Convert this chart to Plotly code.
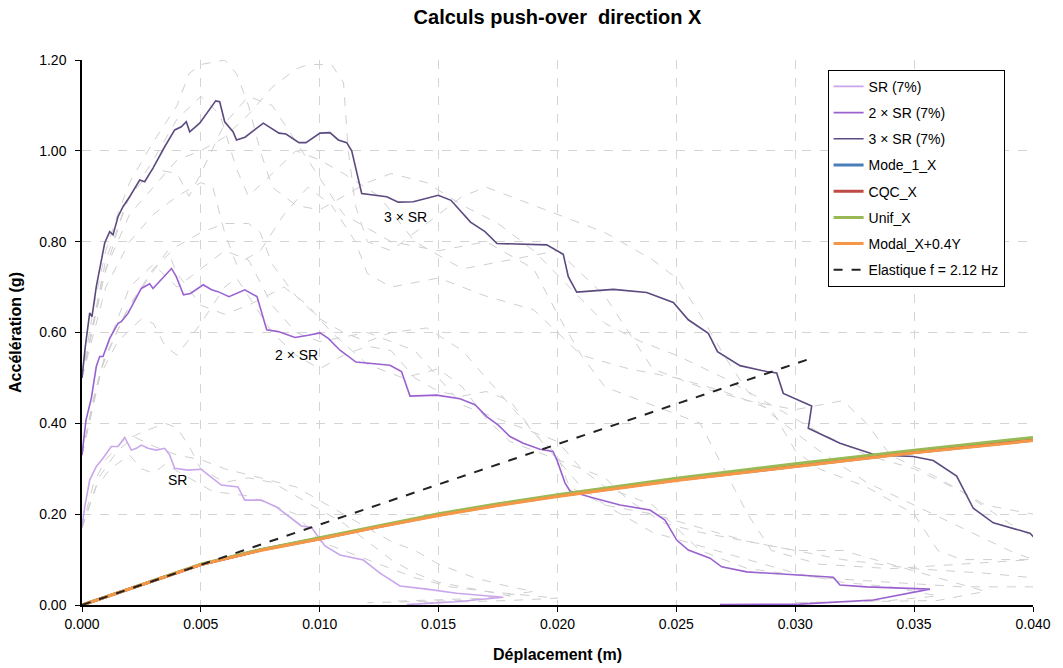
import plotly.graph_objects as go

# ---------------- data ----------------
sr3_x = [0.0, 0.000139, 0.000324, 0.000421, 0.000601, 0.000812, 0.000955, 0.001165, 0.001304,
         0.001514, 0.001724, 0.002006, 0.002217, 0.002427, 0.002637, 0.002986, 0.003478, 0.003899,
         0.004177, 0.004387, 0.004530, 0.004950, 0.005623, 0.005792, 0.006002, 0.006351, 0.006498,
         0.006856, 0.007626, 0.008286, 0.008580, 0.009127, 0.009421, 0.010010, 0.010431, 0.010780,
         0.011133, 0.011344, 0.011764, 0.012252, 0.012816, 0.013304, 0.013935, 0.014986, 0.015520,
         0.016341, 0.016950, 0.017455, 0.019545, 0.020244, 0.020454, 0.020807, 0.022347, 0.023752,
         0.024871, 0.025501, 0.026343, 0.026730, 0.027675, 0.028798, 0.029219, 0.029496, 0.030691,
         0.030548, 0.031881, 0.033282, 0.033702, 0.034964, 0.035805, 0.036789, 0.037488, 0.038329,
         0.039873, 0.040083]
sr3_y = [0.500, 0.569, 0.643, 0.635, 0.701, 0.760, 0.797, 0.822, 0.815,
         0.855, 0.877, 0.899, 0.917, 0.936, 0.932, 0.962, 1.009, 1.046,
         1.053, 1.064, 1.042, 1.061, 1.110, 1.108, 1.064, 1.042, 1.024,
         1.030, 1.061, 1.039, 1.037, 1.018, 1.018, 1.039, 1.040, 1.024,
         1.018, 1.000, 0.906, 0.903, 0.899, 0.887, 0.888, 0.902, 0.891,
         0.843, 0.822, 0.796, 0.793, 0.772, 0.723, 0.689, 0.695, 0.688,
         0.666, 0.628, 0.598, 0.558, 0.527, 0.514, 0.511, 0.466, 0.438,
         0.389, 0.356, 0.332, 0.330, 0.327, 0.318, 0.284, 0.213, 0.181,
         0.158, 0.147]

sr2_x = [0.0, 0.000168, 0.000391, 0.000601, 0.000744, 0.000883, 0.001165, 0.001514, 0.001653,
         0.001935, 0.002494, 0.002847, 0.002986, 0.003335, 0.003764, 0.003966, 0.004269, 0.004563,
         0.005098, 0.005447, 0.005720, 0.006183, 0.006847, 0.007360, 0.007769, 0.008256, 0.008959,
         0.009518, 0.010010, 0.010359, 0.010851, 0.011524, 0.012113, 0.012954, 0.013438, 0.013796,
         0.014919, 0.015898, 0.016530, 0.017022, 0.017510, 0.018002, 0.018561, 0.019263, 0.019810,
         0.019978, 0.020315, 0.020525, 0.021366, 0.022628, 0.023890, 0.024520, 0.025013, 0.025501,
         0.026414, 0.026906, 0.027957, 0.031600, 0.031881, 0.033004, 0.035667, 0.033282, 0.030199,
         0.026835]
sr2_y = [0.330, 0.407, 0.455, 0.525, 0.547, 0.547, 0.587, 0.620, 0.624,
         0.642, 0.697, 0.707, 0.697, 0.716, 0.741, 0.723, 0.683, 0.686,
         0.705, 0.694, 0.690, 0.679, 0.694, 0.679, 0.606, 0.602, 0.589,
         0.594, 0.599, 0.587, 0.561, 0.535, 0.532, 0.528, 0.514, 0.460,
         0.462, 0.454, 0.441, 0.415, 0.396, 0.371, 0.356, 0.343, 0.338,
         0.319, 0.269, 0.251, 0.238, 0.220, 0.209, 0.187, 0.143, 0.121,
         0.103, 0.084, 0.073, 0.061, 0.044, 0.040, 0.035, 0.011, 0.002,
         0.001]

sr1_x = [0.0, 0.000114, 0.000324, 0.000601, 0.000883, 0.001232, 0.001514, 0.001796, 0.002074,
         0.002284, 0.002494, 0.002776, 0.003125, 0.003478, 0.003689, 0.003899, 0.004458, 0.005018,
         0.005228, 0.005859, 0.006561, 0.006843, 0.007541, 0.008172, 0.008803, 0.009224, 0.009645,
         0.009926, 0.010221, 0.010851, 0.011832, 0.012534, 0.013375, 0.014498, 0.015760, 0.017720,
         0.015760, 0.013657]
sr1_y = [0.172, 0.216, 0.275, 0.305, 0.323, 0.349, 0.349, 0.369, 0.341,
         0.345, 0.352, 0.345, 0.341, 0.345, 0.330, 0.301, 0.297, 0.299,
         0.290, 0.264, 0.260, 0.231, 0.231, 0.216, 0.191, 0.174, 0.171,
         0.150, 0.130, 0.110, 0.099, 0.070, 0.042, 0.035, 0.026, 0.017,
         0.007, 0.001]

po_x = [0.0, 0.0025, 0.005, 0.0075, 0.010, 0.0125, 0.015, 0.0175, 0.020, 0.025, 0.030, 0.035, 0.040]
mode1_y = [0.0, 0.045, 0.089, 0.121, 0.146, 0.173, 0.198, 0.220, 0.240, 0.275, 0.306, 0.336, 0.363]
cqc_y = [0.0, 0.045, 0.089, 0.121, 0.147, 0.174, 0.199, 0.221, 0.241, 0.276, 0.308, 0.338, 0.365]
unif_y = [0.0, 0.045, 0.090, 0.122, 0.148, 0.175, 0.201, 0.223, 0.243, 0.279, 0.311, 0.341, 0.369]
modal_y = [0.0, 0.045, 0.089, 0.120, 0.145, 0.172, 0.197, 0.219, 0.239, 0.274, 0.305, 0.335, 0.362]

elas_x = [0.0, 0.0305]
elas_y = [0.0, 0.54]

# individual accelerogram spectra (grey dashed background curves)
grey_curves = [
    ([0, 0.0005, 0.001, 0.0015, 0.002, 0.003, 0.004, 0.0045, 0.005, 0.006, 0.0065, 0.007, 0.0075, 0.008,
      0.009, 0.010, 0.011, 0.012, 0.013, 0.0145, 0.016, 0.0175, 0.019, 0.0205, 0.022, 0.0235, 0.025,
      0.027, 0.029, 0.031, 0.033, 0.035, 0.037, 0.039, 0.040],
     [0.5, 0.66, 0.78, 0.86, 0.93, 1.02, 1.10, 1.17, 1.19, 1.20, 1.17, 1.10, 1.00, 0.92,
      0.88, 0.87, 0.90, 0.93, 0.95, 0.93, 0.88, 0.84, 0.78, 0.70, 0.62, 0.58, 0.55,
      0.50, 0.44, 0.38, 0.33, 0.30, 0.25, 0.18, 0.15]),
    ([0, 0.001, 0.002, 0.003, 0.004, 0.005, 0.006, 0.007, 0.008, 0.009, 0.0095, 0.0105, 0.011, 0.0112,
      0.0115, 0.012, 0.013, 0.014, 0.015, 0.016, 0.017, 0.018, 0.020, 0.022, 0.024, 0.025, 0.026,
      0.027, 0.028, 0.029, 0.031, 0.033, 0.035, 0.037, 0.039, 0.040],
     [0.5, 0.74, 0.86, 0.92, 0.98, 1.00, 1.03, 1.08, 1.14, 1.18, 1.19, 1.19, 1.15, 1.00,
      0.88, 0.80, 0.78, 0.82, 0.86, 0.90, 0.92, 0.90, 0.86, 0.82, 0.76, 0.72, 0.64,
      0.55, 0.47, 0.42, 0.34, 0.27, 0.22, 0.17, 0.12, 0.10]),
    ([0, 0.001, 0.002, 0.003, 0.004, 0.005, 0.0055, 0.006, 0.0065, 0.0075, 0.0085, 0.0095, 0.0105,
      0.0115, 0.012, 0.013, 0.015, 0.017, 0.019, 0.020, 0.021, 0.023, 0.025, 0.027, 0.029, 0.030,
      0.031, 0.033, 0.035, 0.036, 0.037, 0.040],
     [0.5, 0.70, 0.80, 0.86, 0.90, 0.93, 0.92, 0.82, 0.75, 0.78, 0.86, 0.92, 0.88,
      0.80, 0.73, 0.70, 0.72, 0.68, 0.65, 0.60, 0.55, 0.52, 0.50, 0.47, 0.43, 0.34,
      0.30, 0.26, 0.20, 0.12, 0.10, 0.10]),
    ([0, 0.0008, 0.0018, 0.003, 0.004, 0.005, 0.0058, 0.0065, 0.007, 0.008, 0.009, 0.010, 0.011,
      0.0125, 0.014, 0.016, 0.018, 0.020, 0.022, 0.023, 0.024, 0.026, 0.028, 0.030, 0.032, 0.033,
      0.034, 0.036, 0.038, 0.040],
     [0.5, 0.70, 0.88, 0.98, 1.07, 1.12, 1.08, 0.96, 0.90, 0.95, 1.00, 0.98, 0.95,
      0.90, 0.80, 0.74, 0.76, 0.78, 0.68, 0.60, 0.52, 0.48, 0.45, 0.43, 0.45, 0.40,
      0.33, 0.28, 0.22, 0.20]),
    ([0, 0.001, 0.002, 0.003, 0.004, 0.0045, 0.005, 0.006, 0.007, 0.008, 0.009, 0.010, 0.011, 0.013,
      0.015, 0.017, 0.019, 0.020, 0.021, 0.022, 0.024, 0.026, 0.027, 0.028, 0.029, 0.031, 0.034,
      0.037, 0.040],
     [0.5, 0.76, 0.90, 0.96, 0.95, 0.90, 0.95, 1.06, 1.12, 1.10, 1.02, 0.94, 0.86, 0.80,
      0.78, 0.80, 0.74, 0.64, 0.55, 0.48, 0.44, 0.40, 0.30, 0.20, 0.12, 0.09, 0.08,
      0.09, 0.10]),
    ([0, 0.0005, 0.001, 0.002, 0.003, 0.004, 0.005, 0.006, 0.007, 0.0075, 0.008, 0.009, 0.010, 0.011,
      0.012, 0.013, 0.0145, 0.016, 0.017, 0.018, 0.019, 0.020, 0.021, 0.022, 0.023, 0.024, 0.026,
      0.028, 0.030, 0.032, 0.034, 0.036, 0.034, 0.030],
     [0.33, 0.46, 0.55, 0.66, 0.74, 0.79, 0.82, 0.84, 0.84, 0.82, 0.75, 0.68, 0.63, 0.60,
      0.58, 0.60, 0.61, 0.56, 0.50, 0.44, 0.38, 0.32, 0.26, 0.22, 0.19, 0.16, 0.13,
      0.10, 0.07, 0.05, 0.04, 0.02, 0.01, 0.005]),
    ([0, 0.0007, 0.0015, 0.0025, 0.003, 0.0035, 0.004, 0.005, 0.006, 0.0065, 0.007, 0.008, 0.009,
      0.010, 0.011, 0.012, 0.013, 0.014, 0.015, 0.016, 0.017, 0.018, 0.019, 0.020, 0.0205, 0.022,
      0.024, 0.026, 0.028, 0.030, 0.032, 0.034, 0.036, 0.038, 0.036, 0.030],
     [0.33, 0.50, 0.58, 0.63, 0.62, 0.57, 0.55, 0.62, 0.70, 0.72, 0.68, 0.60, 0.55,
      0.52, 0.55, 0.57, 0.56, 0.50, 0.47, 0.46, 0.47, 0.45, 0.38, 0.33, 0.26, 0.22,
      0.20, 0.17, 0.14, 0.12, 0.12, 0.09, 0.06, 0.03, 0.01, 0.005]),
    ([0, 0.0008, 0.0018, 0.0028, 0.0036, 0.004, 0.005, 0.006, 0.007, 0.0085, 0.0095, 0.0105, 0.012,
      0.0135, 0.015, 0.016, 0.017, 0.018, 0.0195, 0.021, 0.022, 0.023, 0.0245, 0.026, 0.028, 0.030,
      0.032, 0.035, 0.038, 0.040],
     [0.33, 0.52, 0.64, 0.72, 0.78, 0.73, 0.66, 0.64, 0.66, 0.70, 0.66, 0.60, 0.53,
      0.50, 0.52, 0.48, 0.41, 0.36, 0.33, 0.30, 0.28, 0.23, 0.18, 0.16, 0.14, 0.12,
      0.10, 0.08, 0.07, 0.06]),
    ([0, 0.001, 0.002, 0.003, 0.004, 0.005, 0.006, 0.007, 0.008, 0.009, 0.010, 0.012, 0.014, 0.015,
      0.016, 0.018, 0.020, 0.021, 0.022, 0.024, 0.025, 0.026, 0.028, 0.031, 0.034, 0.037, 0.040],
     [0.33, 0.56, 0.70, 0.75, 0.70, 0.74, 0.78, 0.76, 0.66, 0.60, 0.58, 0.60, 0.56, 0.50,
      0.44, 0.40, 0.36, 0.30, 0.26, 0.22, 0.17, 0.12, 0.08, 0.06, 0.05, 0.04, 0.04]),
    ([0, 0.0005, 0.001, 0.0017, 0.0025, 0.003, 0.0035, 0.004, 0.0045, 0.005, 0.006, 0.007, 0.008,
      0.009, 0.010, 0.011, 0.012, 0.013, 0.014, 0.015, 0.016, 0.017, 0.018, 0.016, 0.012],
     [0.17, 0.27, 0.32, 0.36, 0.38, 0.39, 0.40, 0.39, 0.35, 0.30, 0.27, 0.28, 0.27,
      0.24, 0.21, 0.18, 0.14, 0.10, 0.07, 0.05, 0.04, 0.03, 0.02, 0.01, 0.005]),
    ([0, 0.0006, 0.0012, 0.002, 0.0025, 0.003, 0.0035, 0.0045, 0.0055, 0.007, 0.008, 0.009, 0.0095,
      0.010, 0.011, 0.012, 0.013, 0.014, 0.0155, 0.017, 0.019, 0.020, 0.018, 0.014],
     [0.17, 0.26, 0.30, 0.33, 0.30, 0.29, 0.31, 0.28, 0.25, 0.24, 0.22, 0.20, 0.17,
      0.14, 0.12, 0.10, 0.08, 0.06, 0.04, 0.03, 0.02, 0.015, 0.01, 0.004]),
    ([0, 0.0007, 0.0015, 0.0022, 0.003, 0.004, 0.005, 0.006, 0.0075, 0.009, 0.010, 0.011, 0.012,
      0.013, 0.014, 0.015, 0.0165, 0.018, 0.019, 0.017, 0.013],
     [0.17, 0.28, 0.34, 0.37, 0.35, 0.33, 0.32, 0.30, 0.28, 0.26, 0.23, 0.20, 0.17,
      0.14, 0.12, 0.09, 0.06, 0.04, 0.03, 0.015, 0.008]),
]

x_ticks = [0.000, 0.005, 0.010, 0.015, 0.020, 0.025, 0.030, 0.035, 0.040]
x_tick_labels = ["0.000", "0.005", "0.010", "0.015", "0.020", "0.025", "0.030", "0.035", "0.040"]
y_ticks = [0.0, 0.2, 0.4, 0.6, 0.8, 1.0, 1.2]
y_tick_labels = ["0.00", "0.20", "0.40", "0.60", "0.80", "1.00", "1.20"]

curve_labels = ["3 × SR", "2 × SR", "SR"]
label_x = [0.01359, 0.00904, 0.0040]
label_y = [0.854, 0.550, 0.275]

# ---------------- figure ----------------
FONT = "Liberation Sans, Arial, sans-serif"
fig = go.Figure()

for gx, gy in grey_curves:
    fig.add_trace(go.Scatter(x=gx, y=gy, mode="lines", showlegend=False, hoverinfo="skip",
                             line=dict(color="#cfcfcf", width=1, dash="dash")))

series = [
    ("SR (7%)", sr1_x, sr1_y, "#c9a6ec", 1.6, "solid"),
    ("2 × SR (7%)", sr2_x, sr2_y, "#9a62d0", 1.6, "solid"),
    ("3 × SR (7%)", sr3_x, sr3_y, "#5c4a80", 1.6, "solid"),
    ("Mode_1_X", po_x, mode1_y, "#4a7ebb", 3, "solid"),
    ("CQC_X", po_x, cqc_y, "#be4b48", 3, "solid"),
    ("Unif_X", po_x, unif_y, "#98b954", 3, "solid"),
    ("Modal_X+0.4Y", po_x, modal_y, "#f79646", 3, "solid"),
    ("Elastique f = 2.12 Hz", elas_x, elas_y, "#222222", 2, "dash"),
]
for i, (name, xs, ys, col, w, dash) in enumerate(series):
    fig.add_trace(go.Scatter(x=xs, y=ys, mode="lines", name=name, legendgroup=f"g{i}",
                             line=dict(color=col, width=w, dash=dash)))

for t, lx, ly in zip(curve_labels, label_x, label_y):
    fig.add_annotation(x=lx, y=ly, text=t, showarrow=False,
                       font=dict(family=FONT, size=14, color="#000"))

fig.update_layout(
    width=1063, height=668,
    margin=dict(l=82, r=30, t=60, b=63),
    paper_bgcolor="white", plot_bgcolor="white",
    font=dict(family=FONT, size=14, color="#000"),
    title=dict(text="<b>Calculs push-over  direction X</b>", x=0.5, xref="paper",
               y=1 - 17 / 668, yanchor="middle", font=dict(family=FONT, size=20)),
    showlegend=True,
    legend=dict(x=0.784, y=0.982, xanchor="left", yanchor="top",
                bgcolor="white", bordercolor="#000", borderwidth=1,
                font=dict(family=FONT, size=14), tracegroupgap=5),
)
fig.update_xaxes(range=[0, 0.040], tickvals=x_ticks, ticktext=x_tick_labels,
                 showline=True, linecolor="#000", linewidth=1.5, ticks="outside", ticklen=5,
                 tickcolor="#000", showgrid=True, gridcolor="#d4d4d4", griddash="dash",
                 zeroline=False, tickfont=dict(size=14), automargin=False,
                 title=dict(text="<b>Déplacement (m)</b>", font=dict(family=FONT, size=16), standoff=18))
fig.update_yaxes(range=[0, 1.20], tickvals=y_ticks, ticktext=y_tick_labels,
                 showline=True, linecolor="#000", linewidth=1.5, ticks="outside", ticklen=5,
                 tickcolor="#000", showgrid=True, gridcolor="#d4d4d4", griddash="dash",
                 zeroline=False, tickfont=dict(size=14), ticklabelstandoff=6, automargin=False,
                 title=dict(text="<b>Accélération (g)</b>", font=dict(family=FONT, size=16), standoff=14))

fig.write_html("out.html")
